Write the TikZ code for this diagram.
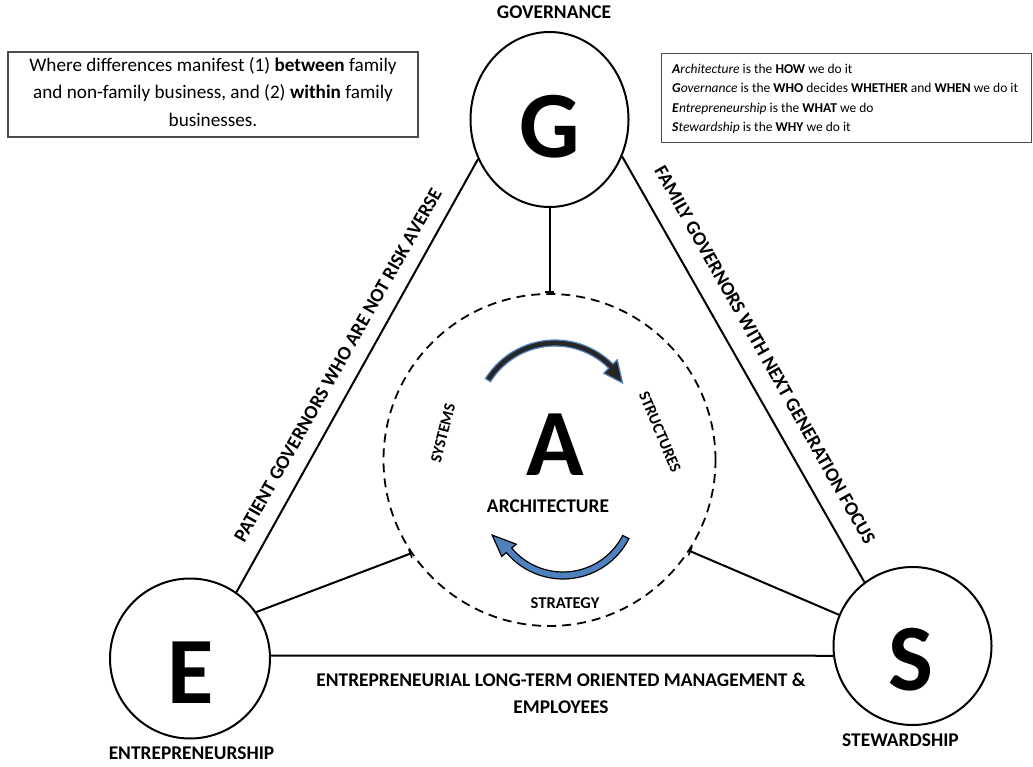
\documentclass[tikz,border=0pt]{standalone}
\usepackage{fontspec}
\setmainfont{Carlito}
\usetikzlibrary{shapes.geometric,arrows.meta,calc}
\newcommand{\fsz}[1]{\fontsize{#1}{#1}\selectfont}
\definecolor{arrowblue}{RGB}{79,129,189}
\begin{document}
\begin{tikzpicture}[x=1pt,y=-1pt,
  lbl/.style={font=\bfseries\fsz{19.4}, inner sep=0},
  small/.style={font=\bfseries\fsz{16}, inner sep=0},
  big/.style={font=\bfseries\fsz{95}, inner sep=0},
  ring/.style={draw, line width=2pt, circle, minimum size=160pt, inner sep=0},
  conn/.style={line width=2pt},
  tconn/.style={line width=2pt, -{Bar[width=9pt,line width=1.6pt]}},
  infobox/.style={draw=black!70, line width=1.2pt, inner sep=0},
  boxtxt/.style={inner sep=0, anchor=base west, font=\fsz{13.5}},
  lefttxt/.style={inner sep=0, anchor=base, font=\fsz{19.2}}]
\useasboundingbox (0,0) rectangle (1033,767);
\fill[white] (0,0) rectangle (1033,767);

% main circles
\node[ellipse, draw, line width=2pt, minimum width=158pt, minimum height=175pt, inner sep=0] (G) at (549.5,119.5) {};
\node[ring] (E) at (190,658.5) {};
\node[ring, minimum size=158pt] (S) at (912.5,646) {};
\node[circle, draw, line width=1.8pt, dash pattern=on 9pt off 6pt, minimum size=332pt, inner sep=0] (A) at (549.5,460) {};

% big letters
\node[big] (Gl) at (550,127) {G};
\node[big] (El) at (191,673) {E};
\node[big] (Sl) at (911,660) {S};
\node[big] (Al) at (555,445) {A};

% connectors
\draw[conn] (G.209.7) -- (E.55.5);
\draw[conn] (G.333.8) -- (S.127.2);
\draw[conn] (E.2) -- (S.187);
\draw[tconn] (G.south) -- (A.north);
\draw[tconn] (E.35) -- (A.214.8);
\draw[tconn] (S.157.4) -- (A.327.8);

% curved arrows
\coordinate (c1) at (555,422);
\path[draw=arrowblue, line width=1.2pt, fill=black!85]
  ($(c1)+(-148:82)$) arc[start angle=-148, end angle=-45, radius=82]
  -- ($(c1)+(-45:88)$) -- ($(c1)+(-30:78)$) -- ($(c1)+(-45:69)$)
  -- ($(c1)+(-45:76)$) arc[start angle=-45, end angle=-148, radius=76] -- cycle;
\coordinate (c2) at (563,505);
\path[draw=black, line width=1.2pt, fill=arrowblue]
  ($(c2)+(27:74)$) arc[start angle=27, end angle=140, radius=74]
  -- ($(c2)+(140:80)$) -- ($(c2)+(157:77)$) -- ($(c2)+(140:61)$)
  -- ($(c2)+(140:67)$) arc[start angle=140, end angle=27, radius=67] -- cycle;

% labels
\node[lbl] (gov) at (554,12.5) {GOVERNANCE};
\node[lbl] (ent) at (191.5,753) {ENTREPRENEURSHIP};
\node[lbl] (stw) at (900.5,740.5) {STEWARDSHIP};
\node[lbl] (mid1) at (561,680) {ENTREPRENEURIAL LONG-TERM ORIENTED MANAGEMENT \&};
\node[lbl] (mid2) at (561,707) {EMPLOYEES};
\node[lbl, rotate=60.5] (pat) at (338,365) {PATIENT GOVERNORS WHO ARE NOT RISK AVERSE};
\node[lbl, rotate=-60.6] (fam) at (765,355) {FAMILY GOVERNORS WITH NEXT GENERATION FOCUS};
\node[lbl] (arch) at (548,506) {ARCHITECTURE};
\node[small, rotate=75.6] (sys) at (443,433) {SYSTEMS};
\node[small, rotate=-67] (str) at (660,432) {STRUCTURES};
\node[small, font=\bfseries\fsz{16.5}] (strat) at (565,603) {STRATEGY};

% left box
\node[infobox, minimum width=410pt, minimum height=85pt] (lb) at (213,94.5) {};
\node[lefttxt] (lb1) at (213,71.5) {Where differences manifest (1) \textbf{between} family};
\node[lefttxt] (lb2) at (213,99) {and non-family business, and (2) \textbf{within} family};
\node[lefttxt] (lb3) at (213,126.5) {businesses.};

% right box
\node[infobox, anchor=north west, minimum width=370pt, minimum height=89pt] (rb) at (661,53) {};
\node[boxtxt] (rb1) at (672,73.5) {\textbf{\textit{A}}\textit{rchitecture} is the \textbf{HOW} we do it};
\node[boxtxt] (rb2) at (672,93) {\textbf{\textit{G}}\textit{overnance} is the \textbf{WHO} decides \textbf{WHETHER} and \textbf{WHEN} we do it};
\node[boxtxt] (rb3) at (672,112.5) {\textbf{\textit{E}}\textit{ntrepreneurship} is the \textbf{WHAT} we do};
\node[boxtxt] (rb4) at (672,132) {\textbf{\textit{S}}\textit{tewardship} is the \textbf{WHY} we do it};
\end{tikzpicture}
\end{document}
